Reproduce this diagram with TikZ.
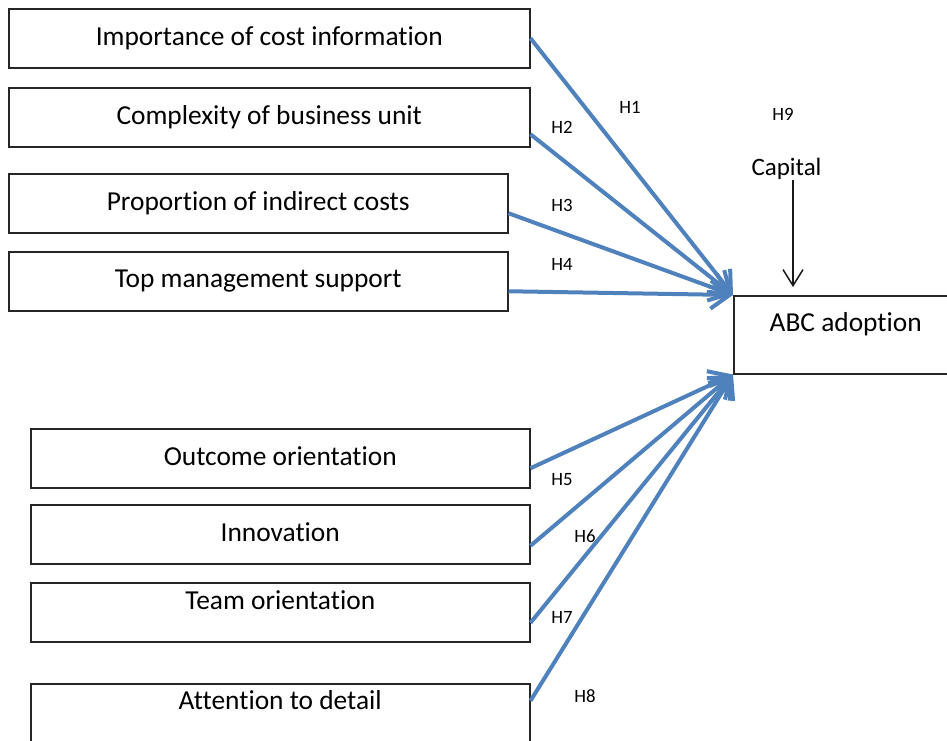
\documentclass[tikz,border=0pt]{standalone}
\usepackage{fontspec}
\setmainfont{Carlito}[Ligatures=NoCommon]
\usetikzlibrary{arrows.meta}
\definecolor{arrowblue}{RGB}{79,129,189}
% keep t and i apart (no ti ligature)
\newcommand{\tiPair}{t\kern0pt i}

\begin{document}
\begin{tikzpicture}[
            x=0.5pt, y=-0.5pt,
            factor/.style={draw=black!85, line width=0.75pt, rectangle, anchor=north west, minimum height=29.5pt, inner sep=2pt, text height=10pt, text depth=3pt, font=\fontsize{13.7}{16}\selectfont},
            hyp/.style={-{Straight Barb[length=9.5pt, width=14pt]}, line width=2pt, arrowblue},
            capline/.style={-{Straight Barb[length=8pt, width=10pt]}, line width=0.75pt, black!90},
            hlabel/.style={font=\fontsize{9.4}{11}\selectfont, inner sep=0pt}
        ]
            \useasboundingbox (0,0) rectangle (947,740);
            \clip (0,0) rectangle (947,740);

            \node[factor, minimum width=260.5pt] (f1) at (8,8) {Importance of cost informa\tiPair{}on};
            \node[factor, minimum width=260.5pt] (f2) at (8,87) {Complexity of business unit};
            \node[factor, minimum width=249.5pt] (f3) at (8,173) {Propor\tiPair{}on of indirect costs};
            \node[factor, minimum width=249.5pt, text depth=4pt] (f4) at (8,251) {Top management support};

            \node[factor, minimum width=249.5pt] (o1) at (30,428) {Outcome orienta\tiPair{}on};
            \node[factor, minimum width=249.5pt] (o2) at (30,504) {Innova\tiPair{}on};
            \node[factor, minimum width=249.5pt, text depth=12.7pt] (o3) at (30,582) {Team orienta\tiPair{}on};
            \node[factor, minimum width=249.5pt, text depth=13.7pt] (o4) at (30,683) {Atten\tiPair{}on to detail};

            \node[factor, minimum width=112pt, minimum height=39pt, text depth=13.2pt] (abc) at (733,295) {ABC adop\tiPair{}on};

            \node[font=\fontsize{12.5}{14}\selectfont, inner sep=0pt] (cap) at (786.5,169) {Capital};
            \coordinate (capend) at (793,287);
            \draw[capline] (cap.south -| capend) -- (capend);

            \draw[hyp] (f1.east) -- (abc.north west);
            \draw[hyp] ([yshift=-8.5pt]f2.east) -- (abc.north west);
            \draw[hyp] ([yshift=-5pt]f3.east) -- (abc.north west);
            \draw[hyp] ([yshift=-5pt]f4.east) -- (abc.north west);

            \draw[hyp] ([yshift=-5pt]o1.east) -- (abc.south west);
            \draw[hyp] ([yshift=-5.75pt]o2.east) -- (abc.south west);
            \draw[hyp] ([yshift=-5.25pt]o3.east) -- (abc.south west);
            \draw[hyp] ([yshift=6.25pt]o4.east) -- (abc.south west);

            \node[hlabel] (h1) at (630,107) {H1};
            \node[hlabel] (h2) at (562,127) {H2};
            \node[hlabel] (h3) at (562,205) {H3};
            \node[hlabel] (h4) at (562,264) {H4};
            \node[hlabel] (h5) at (562,480) {H5};
            \node[hlabel] (h6) at (585,536) {H6};
            \node[hlabel] (h7) at (562,617) {H7};
            \node[hlabel] (h8) at (585,696) {H8};
            \node[hlabel] (h9) at (783,114) {H9};
        \end{tikzpicture}
\end{document}
